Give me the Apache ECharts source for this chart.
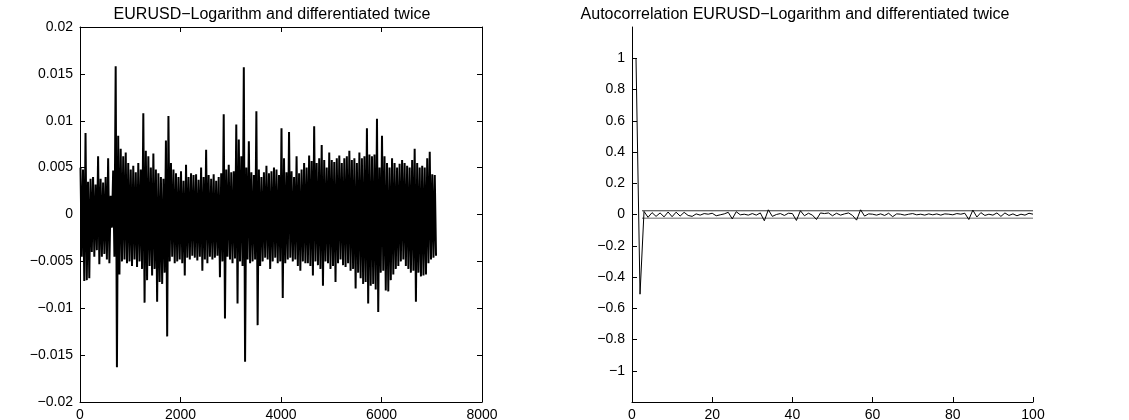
<!DOCTYPE html>
<html>
<head>
<meta charset="utf-8">
<script src="https://cdn.jsdelivr.net/npm/echarts@6/dist/echarts.min.js"></script>
<style>
html,body{margin:0;padding:0;background:#fff;}
#chart{width:1129px;height:420px;}
</style>
</head>
<body>
<div id="chart"></div>
<script>
// ---- Left panel: time series envelope, read per bin of 50 observations (max / min in each bin)
const tsBinWidth = 50;
const tsHigh = [
.0050,.0048,.0087,.0035,.0038,.0040,.0032,.0062,.0038,.0034,
.0040,.0060,.0020,.0047,.0158,.0084,.0070,.0062,.0066,.0055,
.0048,.0052,.0045,.0055,.0048,.0108,.0068,.0062,.0050,.0065,
.0048,.0044,.0040,.0038,.0079,.0105,.0055,.0048,.0044,.0040,
.0046,.0036,.0053,.0040,.0044,.0042,.0043,.0037,.0050,.0040,
.0069,.0042,.0038,.0043,.0036,.0040,.0044,.0107,.0048,.0053,
.0045,.0046,.0096,.0080,.0062,.0157,.0050,.0078,.0045,.0042,
.0110,.0048,.0040,.0045,.0052,.0044,.0046,.0050,.0048,.0042,
.0092,.0060,.0045,.0088,.0046,.0040,.0062,.0044,.0048,.0055,
.0050,.0063,.0057,.0094,.0055,.0060,.0074,.0058,.0050,.0066,
.0058,.0056,.0060,.0063,.0055,.0060,.0062,.0068,.0058,.0060,
.0055,.0066,.0060,.0062,.0092,.0064,.0062,.0064,.0102,.0050,
.0084,.0062,.0055,.0050,.0060,.0055,.0050,.0054,.0058,.0055,
.0052,.0050,.0058,.0070,.0055,.0050,.0052,.0050,.0060,.0067,
.0043,.0042
];
const tsLow = [
-.0045,-.0071,-.0070,-.0068,-.0040,-.0045,-.0038,-.0053,-.0045,-.0042,
-.0048,-.0052,-.0014,-.0045,-.0163,-.0064,-.0050,-.0048,-.0052,-.0050,
-.0055,-.0048,-.0056,-.0050,-.0058,-.0094,-.0070,-.0055,-.0065,-.0058,
-.0093,-.0072,-.0074,-.0062,-.0130,-.0050,-.0045,-.0052,-.0050,-.0048,
-.0052,-.0065,-.0046,-.0048,-.0044,-.0046,-.0049,-.0045,-.0060,-.0048,
-.0052,-.0045,-.0048,-.0046,-.0044,-.0067,-.0050,-.0111,-.0045,-.0048,
-.0052,-.0047,-.0095,-.0050,-.0055,-.0157,-.0048,-.0052,-.0050,-.0048,
-.0118,-.0055,-.0050,-.0046,-.0048,-.0058,-.0050,-.0046,-.0052,-.0050,
-.0089,-.0052,-.0048,-.0046,-.0050,-.0048,-.0055,-.0060,-.0050,-.0052,
-.0052,-.0055,-.0065,-.0050,-.0054,-.0058,-.0076,-.0050,-.0052,-.0058,
-.0055,-.0072,-.0052,-.0048,-.0054,-.0056,-.0052,-.0060,-.0058,-.0079,
-.0062,-.0068,-.0074,-.0072,-.0095,-.0076,-.0074,-.0080,-.0104,-.0062,
-.0060,-.0081,-.0082,-.0070,-.0064,-.0058,-.0055,-.0050,-.0048,-.0055,
-.0058,-.0062,-.0060,-.0093,-.0062,-.0066,-.0065,-.0064,-.0052,-.0048,
-.0046,-.0044
];
const tsXTicks = [0, 2000, 4000, 6000, 8000];
const tsYTicks = [-0.02, -0.015, -0.01, -0.005, 0, 0.005, 0.01, 0.015, 0.02];
const tsTitle = 'EURUSD\u2212Logarithm and differentiated twice';

// ---- Right panel: autocorrelation for lags 1..100
const acfLags = [
 1, 2, 3, 4, 5, 6, 7, 8, 9,10,11,12,13,14,15,16,17,18,19,20,
21,22,23,24,25,26,27,28,29,30,31,32,33,34,35,36,37,38,39,40,
41,42,43,44,45,46,47,48,49,50,51,52,53,54,55,56,57,58,59,60,
61,62,63,64,65,66,67,68,69,70,71,72,73,74,75,76,77,78,79,80,
81,82,83,84,85,86,87,88,89,90,91,92,93,94,95,96,97,98,99,100
];
const acfValues = [
 1.000,-0.510, 0.020,-0.018, 0.012,-0.012, 0.010,-0.015, 0.016,-0.014,
 0.015,-0.010, 0.014,-0.006,-0.012, 0.004,-0.004, 0.006, 0.002, 0.008,
-0.008,-0.002, 0.004, 0.014,-0.028, 0.018,-0.002, 0.002,-0.004, 0.006,
-0.004, 0.010,-0.040, 0.030,-0.012, 0.000, 0.006,-0.006, 0.008, 0.006,
-0.038, 0.024,-0.008, 0.008,-0.004,-0.032, 0.010, 0.006, 0.010,-0.008,
 0.008,-0.004, 0.004, 0.010,-0.006,-0.036, 0.030,-0.010, 0.004, 0.002,
-0.004, 0.004,-0.006, 0.008,-0.014, 0.004, 0.002,-0.004, 0.002, 0.006,
-0.002, 0.002,-0.004, 0.004,-0.002, 0.004,-0.004, 0.004, 0.002,-0.002,
 0.006, 0.002, 0.008,-0.032, 0.028,-0.016, 0.012,-0.006, 0.002,-0.004,
 0.010,-0.012, 0.010,-0.006, 0.004,-0.008, 0.002,-0.004, 0.008, 0.002
];
const confUpper = 0.0239;
const confLower = -0.0239;
const confLagRange = [2.5, 100];
const acfXTicks = [0, 20, 40, 60, 80, 100];
const acfYTicks = [-1, -0.8, -0.6, -0.4, -0.2, 0, 0.2, 0.4, 0.6, 0.8, 1];
const acfYRange = [-1.2, 1.2];
const acfTitle = 'Autocorrelation EURUSD\u2212Logarithm and differentiated twice';

// ---- build series data
const tsData = [];
for (let i = 0; i < tsHigh.length; i++) {
  tsData.push([i * tsBinWidth + tsBinWidth * 0.2, tsHigh[i]]);
  tsData.push([i * tsBinWidth + tsBinWidth * 0.7, tsLow[i]]);
}
const acfData = acfLags.map((l, i) => [l, acfValues[i]]);

const FONT = 'Liberation Sans, Arial, Helvetica, sans-serif';
const fmt = v => (v < 0 ? '\u2212' : '') + String(Math.abs(v));
const axisBase = {
  axisLine: { show: true, onZero: false, lineStyle: { color: '#000', width: 1 } },
  splitLine: { show: false },
  axisTick: { inside: true, length: 5, lineStyle: { color: '#000' } },
  axisLabel: { color: '#000', fontFamily: FONT, fontSize: 14 }
};
function ax(extra) {
  const o = JSON.parse(JSON.stringify(axisBase));
  for (const k in extra) {
    if (typeof extra[k] === 'object' && !Array.isArray(extra[k]) && o[k]) Object.assign(o[k], extra[k]);
    else o[k] = extra[k];
  }
  return o;
}

const chart = echarts.init(document.getElementById('chart'), null, { renderer: 'canvas' });
const option = {
  animation: false,
  backgroundColor: '#fff',
  grid: [
    { left: 80, top: 27, width: 402, height: 375, containLabel: false, outerBoundsMode: 'none' },
    { left: 632, top: 27, width: 401, height: 375, containLabel: false, outerBoundsMode: 'none' }
  ],
  xAxis: [
    ax({ type: 'value', gridIndex: 0, position: 'bottom', min: tsXTicks[0], max: tsXTicks[tsXTicks.length - 1],
         axisTick: { customValues: tsXTicks }, axisLabel: { customValues: tsXTicks, margin: 6, formatter: fmt } }),
    ax({ type: 'value', gridIndex: 0, position: 'top', min: tsXTicks[0], max: tsXTicks[tsXTicks.length - 1],
         axisTick: { customValues: tsXTicks }, axisLabel: { show: false } }),
    ax({ type: 'value', gridIndex: 1, position: 'bottom', min: acfXTicks[0], max: acfXTicks[acfXTicks.length - 1],
         axisTick: { customValues: acfXTicks }, axisLabel: { customValues: acfXTicks, margin: 6, formatter: fmt } })
  ],
  yAxis: [
    ax({ type: 'value', gridIndex: 0, position: 'left', min: tsYTicks[0], max: tsYTicks[tsYTicks.length - 1],
         axisTick: { customValues: tsYTicks }, axisLabel: { customValues: tsYTicks, margin: 7, formatter: fmt } }),
    ax({ type: 'value', gridIndex: 0, position: 'right', min: tsYTicks[0], max: tsYTicks[tsYTicks.length - 1],
         axisTick: { customValues: tsYTicks }, axisLabel: { show: false } }),
    ax({ type: 'value', gridIndex: 1, position: 'left', min: acfYRange[0], max: acfYRange[1],
         axisTick: { customValues: acfYTicks }, axisLabel: { customValues: acfYTicks, margin: 7, formatter: fmt } })
  ],
  graphic: [
    { type: 'text', x: 272, y: 15, style: { text: tsTitle, fill: '#000', fontFamily: FONT, fontSize: 16, align: 'center', verticalAlign: 'middle' } },
    { type: 'text', x: 795, y: 15, style: { text: acfTitle, fill: '#000', fontFamily: FONT, fontSize: 16, align: 'center', verticalAlign: 'middle' } }
  ],
  series: [
    { type: 'line', xAxisIndex: 0, yAxisIndex: 0, data: tsData, symbol: 'none',
      lineStyle: { color: '#000', width: 2 }, silent: true, clip: true },
    { type: 'line', xAxisIndex: 2, yAxisIndex: 2, data: [[confLagRange[0], confUpper], [confLagRange[1], confUpper]], symbol: 'none',
      lineStyle: { color: '#333', width: 1 }, silent: true },
    { type: 'line', xAxisIndex: 2, yAxisIndex: 2, data: [[confLagRange[0], confLower], [confLagRange[1], confLower]], symbol: 'none',
      lineStyle: { color: '#999', width: 1.6 }, silent: true },
    { type: 'line', xAxisIndex: 2, yAxisIndex: 2, data: acfData, symbol: 'none',
      lineStyle: { color: '#000', width: 1 }, silent: true }
  ]
};
chart.setOption(option);
</script>
</body>
</html>
